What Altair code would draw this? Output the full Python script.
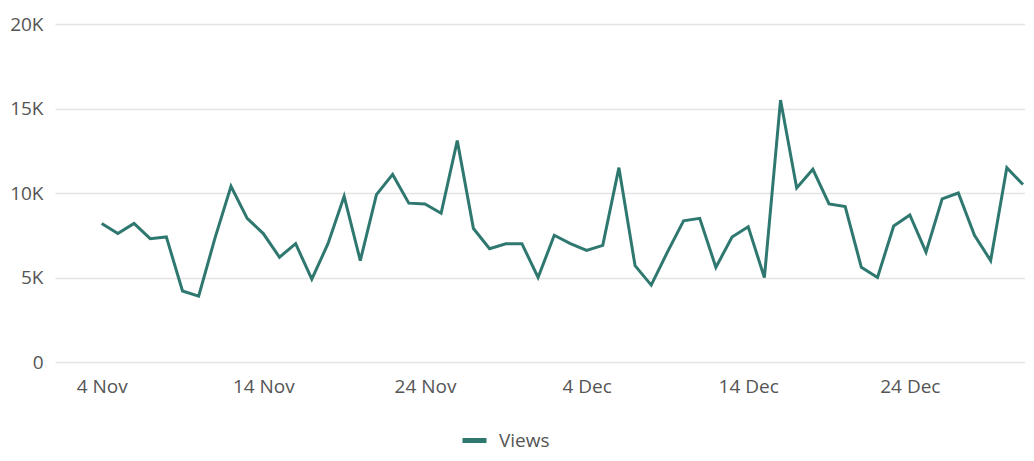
import altair as alt
import pandas as pd

# Daily views, 4 Nov - 31 Dec
dates = [d.strftime("%Y-%m-%dT00:00:00") for d in pd.date_range("2023-11-04", "2023-12-31", freq="D")]
views_nov = [8200, 7600, 8200, 7300, 7400, 4200, 3900, 7300, 10400, 8500,
             7600, 6200, 7000, 4900, 7000, 9800, 6000, 9900, 11100, 9400,
             9350, 8800, 13100, 7900, 6700, 7000, 7000]
views_dec = [5000, 7500, 7000, 6600, 6900, 11500, 5700, 4550, 6500, 8350,
             8500, 5600, 7400, 8000, 5000, 15500, 10300, 11400, 9350, 9200,
             5600, 5000, 8050, 8700, 6500, 9650, 10000, 7500, 6000, 11500,
             10500]
views = views_nov + views_dec
series = ["Views"] * len(views)

y_ticks = [0, 5000, 10000, 15000, 20000]
x_ticks = [alt.DateTime(year=2023, month=m, date=d) for m, d in
           [(11, 4), (11, 14), (11, 24), (12, 4), (12, 14), (12, 24)]]

df = pd.DataFrame({"date": dates, "views": views, "series": series})

FONT = "Open Sans"
LABEL_COLOR = "#555555"
LINE_COLOR = "#2F7870"

chart = (
    alt.Chart(df)
    .mark_line(strokeWidth=3, strokeJoin="miter")
    .encode(
        x=alt.X(
            "date:T",
            title=None,
            scale=alt.Scale(domain=[
                alt.DateTime(year=2023, month=11, date=1, hours=2, minutes=40),
                alt.DateTime(year=2023, month=12, date=31, hours=3),
            ]),
            axis=alt.Axis(values=x_ticks, format="%-d %b", grid=False, domain=False,
                          ticks=False, labelPadding=15, labelFontSize=19,
                          labelColor=LABEL_COLOR, labelFont=FONT, labelFlush=False),
        ),
        y=alt.Y(
            "views:Q",
            title=None,
            scale=alt.Scale(domain=[0, 20000], nice=False),
            axis=alt.Axis(values=y_ticks, labelExpr="datum.value == 0 ? '0' : (datum.value / 1000) + 'K'",
                          grid=True, gridColor="#E4E4E4", gridWidth=1.5, domain=False, ticks=False,
                          labelPadding=12, labelFontSize=19, labelColor=LABEL_COLOR, labelFont=FONT),
        ),
        color=alt.Color(
            "series:N",
            scale=alt.Scale(domain=["Views"], range=[LINE_COLOR]),
            legend=alt.Legend(title=None, orient="none", legendX=405, legendY=402,
                              symbolType="stroke", symbolSize=576, symbolStrokeWidth=5,
                              labelFontSize=19, labelColor=LABEL_COLOR, labelFont=FONT,
                              labelOffset=10),
        ),
    )
    .properties(
        width=970,
        height=338,
        autosize=alt.AutoSizeParams(type="none"),
        padding={"left": 47, "top": 16, "right": 0, "bottom": 90},
    )
    .configure_view(stroke=None)
)

chart.save("out.html", embed_options={"renderer": "svg", "actions": False})
